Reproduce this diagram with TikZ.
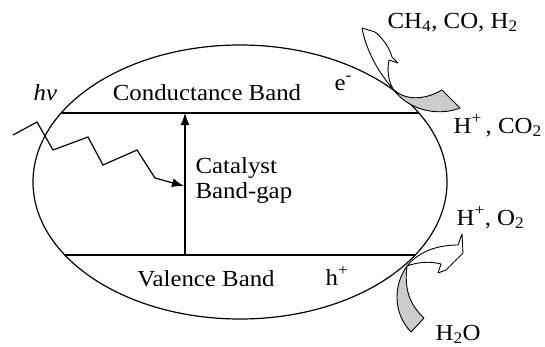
\documentclass[tikz,border=0pt]{standalone}
\usepackage{fontspec}
\setmainfont{Liberation Serif}[FakeStretch=1.08]
\usepackage{tikz}
\usetikzlibrary{arrows.meta}

\tikzset{
  lbl/.style={font=\fontsize{23}{25}\selectfont, inner sep=0pt, anchor=base west},
  flow/.style={line width=0.9pt, line join=round},
}

\begin{document}
\begin{tikzpicture}[x=1pt, y=-1pt, line width=1.2pt, >={Latex[length=12pt,width=9pt]}]
    \useasboundingbox (0,0) rectangle (545,346);
    % catalyst particle
    \draw (240,182) ellipse [x radius=207, y radius=137];
    % band edges
    \coordinate (cbL) at (61,113);
    \coordinate (cbR) at (419,113);
    \coordinate (vbL) at (65,255);
    \coordinate (vbR) at (415,255);
    \draw (cbL) -- (cbR);
    \draw (vbL) -- (vbR);
    % band gap
    \coordinate (gapB) at (185,255);
    \coordinate (gapT) at (185,113);
    \draw[->] (gapB) -- (gapT);
    % incoming light
    \coordinate (light) at (13,135);
    \coordinate (absorb) at (184,186);
    \draw[->, line join=miter] (light) -- (37,122) -- (53,150) -- (88,137) -- (103,165)
        -- (137,150) -- (155,178) -- (absorb);
    % labels inside
    \node[lbl, font=\fontsize{23}{25}\selectfont\itshape] (hv) at (33,100) {hν};
    \node[lbl, anchor=base] (cbText) at (207,100) {Conductance Band};
    \node[lbl] (eMinus) at (334,90) {e\textsuperscript{-}};
    \node[lbl, anchor=base west] (gapText) at (195,173) {Catalyst};
    \node[lbl, anchor=base west] (gapText2) at (195,198) {Band-gap};
    \node[lbl, anchor=base] (vbText) at (206,286) {Valence Band};
    \node[lbl] (hPlus) at (325,285) {h\textsuperscript{+}};
    % reduction side
    \coordinate (redSite) at (393,89);
    \draw[flow, fill=gray!40] (redSite) .. controls (405,101) and (425,100) .. (442,90)
        -- (460,108) .. controls (440,116) and (410,112) .. (redSite) -- cycle;
    \draw[flow, fill=white] (redSite) .. controls (378,72) and (366,50) .. (362,28)
        -- (375,32) .. controls (385,40) and (390,50) .. (392,57) -- (398,63) -- (389,60)
        .. controls (387,70) and (388,80) .. (redSite) -- cycle;
    \node[lbl] (products) at (387,28) {CH\textsubscript{4}, CO, H\textsubscript{2}};
    \node[lbl] (reactCO) at (453,133) {H\textsuperscript{+}\,, CO\textsubscript{2}};
    % oxidation side
    \coordinate (oxSite) at (407,266);
    \draw[flow, fill=gray!40] (oxSite) .. controls (394,284) and (392,312) .. (411,332)
        -- (424,318) .. controls (410,305) and (404,290) .. (oxSite) -- cycle;
    \draw[flow, fill=white] (oxSite) .. controls (420,250) and (440,245) .. (458,245)
        -- (462,234) -- (463,253) -- (446,270) -- (438,273) -- (441,264)
        .. controls (430,261) and (418,262) .. (oxSite) -- cycle;
    \node[lbl] (products2) at (456,225) {H\textsuperscript{+}, O\textsubscript{2}};
    \node[lbl] (water) at (435,340) {H\textsubscript{2}O};
\end{tikzpicture}
\end{document}
